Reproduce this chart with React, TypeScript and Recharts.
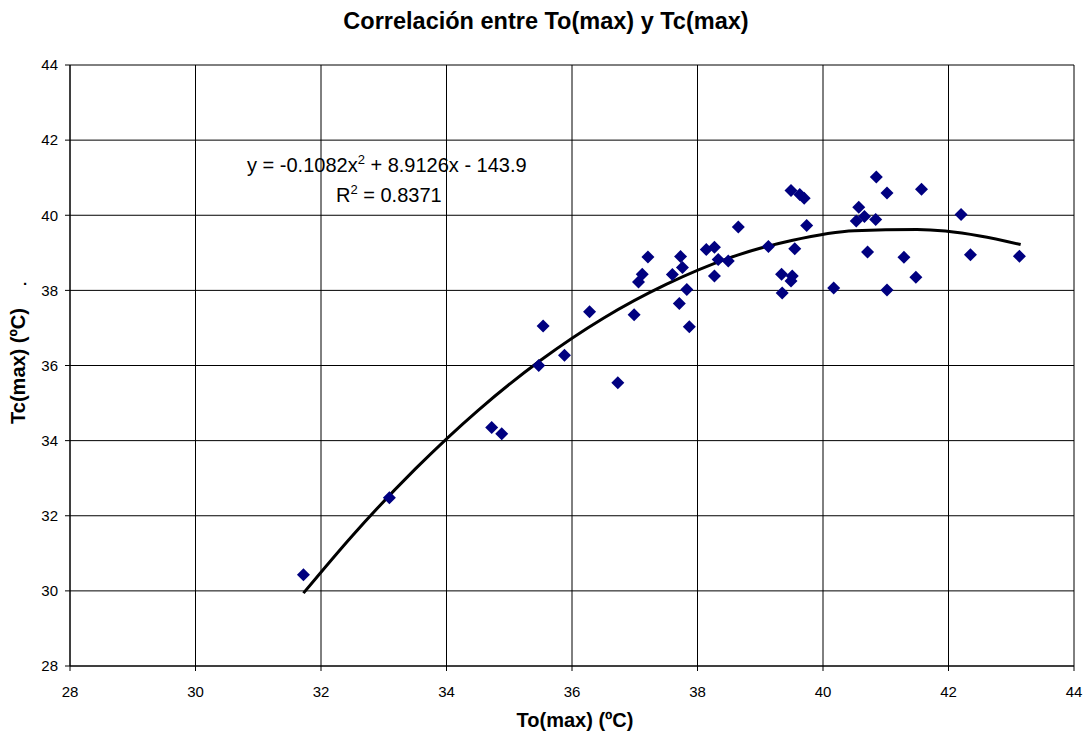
import React from 'react';
import { ComposedChart, Scatter, Line, XAxis, YAxis, CartesianGrid } from 'recharts';

// measured points: To(max) vs Tc(max)
const toMax = [
  31.72, 33.09, 34.72, 34.88, 35.47, 35.54, 35.88, 36.28, 36.73, 36.99,
  37.06, 37.12, 37.21, 37.6, 37.71, 37.73, 37.76, 37.83, 37.87, 38.14,
  38.27, 38.27, 38.33, 38.49, 38.65, 39.13, 39.34, 39.35, 39.51, 39.49,
  39.49, 39.63, 39.7, 39.55, 39.74, 40.17, 40.85, 41.02, 41.57, 40.57,
  40.53, 40.66, 40.84, 42.2, 40.71, 41.29, 42.35, 43.13, 41.48, 41.02,
];
const tcMax = [
  30.43, 32.48, 34.35, 34.18, 36.0, 37.05, 36.27, 37.43, 35.54, 37.35,
  38.22, 38.43, 38.89, 38.42, 37.65, 38.9, 38.61, 38.02, 37.03, 39.09,
  39.15, 38.38, 38.82, 38.78, 39.69, 39.17, 38.43, 37.93, 38.38, 38.25,
  40.66, 40.55, 40.45, 39.11, 39.73, 38.06, 41.02, 40.59, 40.69, 40.21,
  39.85, 39.97, 39.89, 40.02, 39.02, 38.88, 38.95, 38.91, 38.35, 38.01,
];

// points
const trendX = [31.72, 32.5, 33.5, 34.5, 35.5, 36.5, 37.5, 38.5, 39.5, 40.5, 41.5, 42.5, 43.15];
const trendY = [29.94, 31.47, 33.24, 34.8, 36.14, 37.26, 38.16, 38.86, 39.33, 39.59, 39.62, 39.45, 39.22];

const ticks = [28, 30, 32, 34, 36, 38, 40, 42, 44];

const points = toMax.map((x, i) => ({ x, y: tcMax[i] }));
const trend = trendX.map((x, i) => ({ x, t: trendY[i] }));

const FONT = 'Arial, "Liberation Sans", sans-serif';

const Diamond = (props: any) => {
  const { cx, cy } = props;
  if (cx == null || cy == null) return null;
  const r = 6.5;
  return (
    <polygon
      points={`${cx},${cy - r} ${cx + r},${cy} ${cx},${cy + r} ${cx - r},${cy}`}
      fill="#000080"
    />
  );
};

const App = () => {
  return (
    <div style={{ position: 'relative', width: 1090, height: 733, background: '#fff' }}>
      <style>{'body{margin:0}'}</style>
      <ComposedChart width={1090} height={733} margin={{ top: 65, right: 16, bottom: 37, left: 30 }}>
        <CartesianGrid stroke="#000" strokeWidth={1} />
        <XAxis
          type="number"
          dataKey="x"
          domain={[28, 44]}
          ticks={ticks}
          height={30}
          allowDataOverflow
          stroke="#000"
          tickSize={5}
          tickMargin={15}
          tick={{ fill: '#000', fontSize: 15, fontFamily: FONT }}
        />
        <YAxis
          type="number"
          domain={[28, 44]}
          ticks={ticks}
          width={40}
          allowDataOverflow
          stroke="#000"
          tickSize={5}
          tickMargin={7}
          tick={{ fill: '#000', fontSize: 15, fontFamily: FONT }}
        />
        <Line
          data={trend}
          dataKey="t"
          type="monotone"
          stroke="#000"
          strokeWidth={3}
          dot={false}
          activeDot={false}
          isAnimationActive={false}
        />
        <Scatter data={points} dataKey="y" shape={Diamond} isAnimationActive={false} />
      </ComposedChart>
      <svg
        width={1090}
        height={733}
        style={{ position: 'absolute', left: 0, top: 0, pointerEvents: 'none' }}
        fontFamily={FONT}
      >
        <text x={546} y={29} textAnchor="middle" fontSize={23.5} fontWeight="bold" fill="#000">
          Correlación entre To(max) y Tc(max)
        </text>
        <text x={575} y={727} textAnchor="middle" fontSize={20} fontWeight="bold" fill="#000">
          To(max) (ºC)
        </text>
        <text
          x={0}
          y={0}
          transform="translate(25,366) rotate(-90)"
          textAnchor="middle"
          fontSize={20}
          fontWeight="bold"
          fill="#000"
        >
          Tc(max) (ºC)
        </text>
        <text x={25} y={285} textAnchor="middle" fontSize={15} fontWeight="bold" fill="#000">.</text>
        <text x={247} y={172} fontSize={20} fill="#000">
          y = -0.1082x<tspan dy={-8} fontSize={13}>2</tspan>
          <tspan dy={8}> + 8.9126x - 143.9</tspan>
        </text>
        <text x={336} y={202} fontSize={20} fill="#000">
          R<tspan dy={-8} fontSize={13}>2</tspan>
          <tspan dy={8}> = 0.8371</tspan>
        </text>
      </svg>
    </div>
  );
};

export default App;
